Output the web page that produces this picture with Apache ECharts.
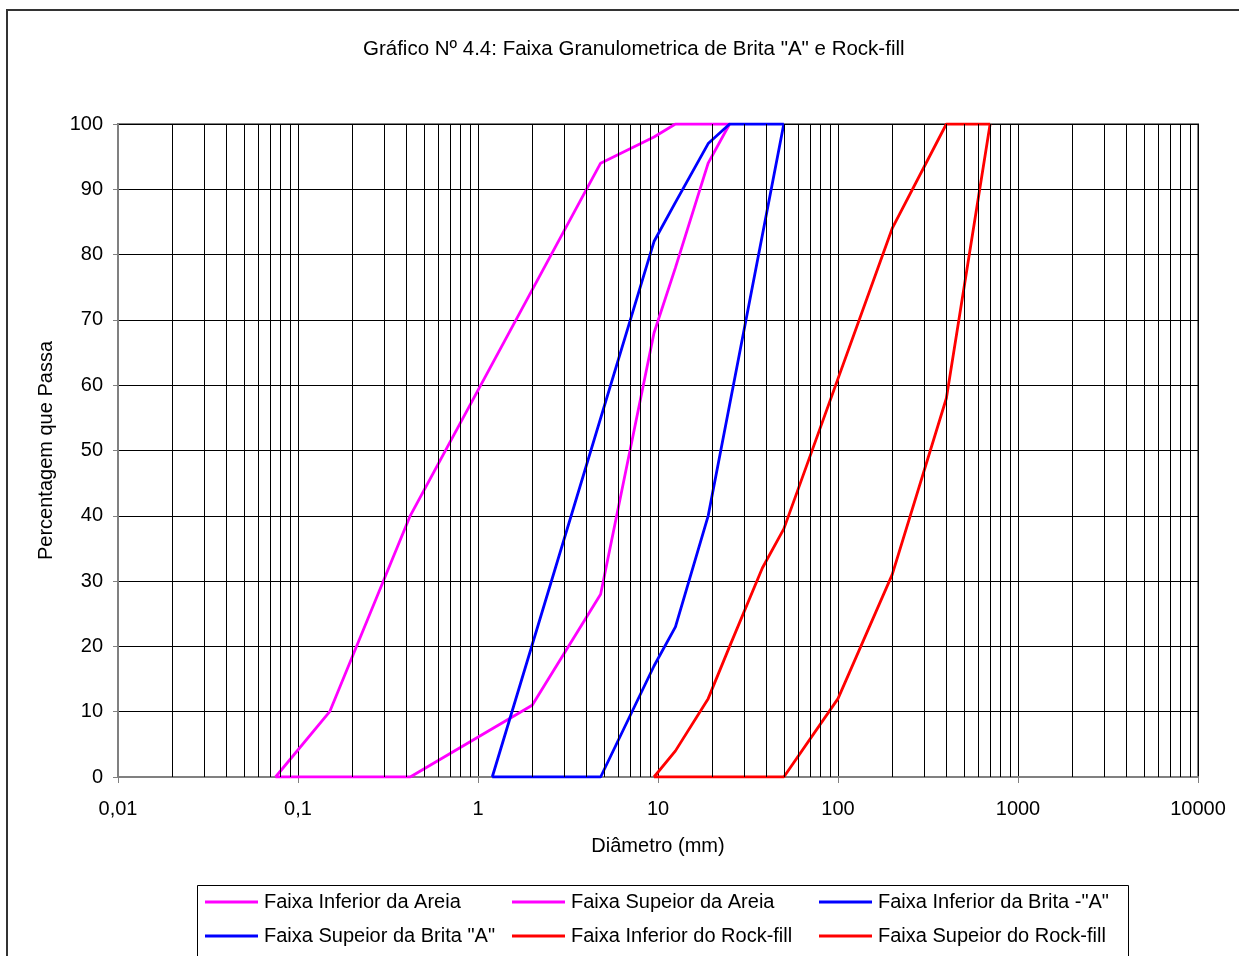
<!DOCTYPE html>
<html>
<head>
<meta charset="utf-8">
<script src="https://cdn.jsdelivr.net/npm/echarts@6/dist/echarts.min.js"></script>
<style>
html,body{margin:0;padding:0;background:#fff;}
#chart{width:1239px;height:956px;}
</style>
</head>
<body>
<div id="chart"></div>
<script>
const TITLE = 'Gráfico Nº 4.4: Faixa Granulometrica de Brita "A" e Rock-fill';
const X_NAME = 'Diâmetro (mm)';
const Y_NAME = 'Percentagem que Passa';
const X_TICK_LABELS = {0.01:'0,01',0.1:'0,1',1:'1',10:'10',100:'100',1000:'1000',10000:'10000'};
const DECADES = [0.01, 0.1, 1, 10, 100, 1000];
const MINOR_MULTS = [2, 3, 4, 5, 6, 7, 8, 9];

const NAMES = ['Faixa Inferior da Areia','Faixa Supeior da Areia','Faixa Inferior da Brita -"A"',
               'Faixa Supeior da Brita "A"','Faixa Inferior do Rock-fill','Faixa Supeior do Rock-fill'];
const COLORS = ['#FF00FF','#FF00FF','#0000FF','#0000FF','#FF0000','#FF0000'];

const infAreiaX = [0.075, 0.15, 0.42, 4.8, 9.5, 12.5, 25];
const infAreiaY = [0, 10, 40, 94, 98, 100, 100];
const supAreiaX = [0.075, 0.15, 0.42, 2.0, 4.8, 9.5, 12.5, 19, 25];
const supAreiaY = [0, 0, 0, 11, 28, 68, 78, 94, 100];
const infBritaX = [1.2, 9.5, 12.5, 19, 25, 50];
const infBritaY = [0, 82, 88, 97, 100, 100];
const supBritaX = [1.2, 4.8, 9.5, 12.5, 19, 50];
const supBritaY = [0, 0, 17, 23, 40, 100];
const infRockX = [9.5, 12.5, 19, 25, 38, 50, 200, 400, 700];
const infRockY = [0, 4, 12, 20, 32, 38, 84, 100, 100];
const supRockX = [9.5, 50, 100, 200, 400, 700];
const supRockY = [0, 0, 12, 31, 58, 100];

const SERIES_X = [infAreiaX, supAreiaX, infBritaX, supBritaX, infRockX, supRockX];
const SERIES_Y = [infAreiaY, supAreiaY, infBritaY, supBritaY, infRockY, supRockY];

const FONT = 'Liberation Sans, Arial, sans-serif';
const FS = 20;

const minorLines = [];
DECADES.forEach(d => MINOR_MULTS.forEach(m => minorLines.push({xAxis: +(d*m).toPrecision(3)})));

const series = NAMES.map((n, i) => ({
  name: n, type: 'line', symbol: 'none', showSymbol: false, z: 3,
  color: COLORS[i],
  itemStyle: {color: COLORS[i]},
  lineStyle: {color: COLORS[i], width: 2.8},
  data: SERIES_X[i].map((x, k) => [x, SERIES_Y[i][k]])
}));
series.push({
  name: '_minor', type: 'line', symbol: 'none', z: 1, silent: true, data: [],
  markLine: {silent: true, symbol: ['none','none'], label: {show: false},
    lineStyle: {color: '#000', width: 1, type: 'solid'}, emphasis: {disabled: true},
    data: minorLines, animation: false}
});

const LEG_LEFT = [205, 512, 819];
const LEG_TOP = [892, 926];
const legends = NAMES.map((n, i) => ({
  data: [n], left: LEG_LEFT[i % 3], top: LEG_TOP[Math.floor(i / 3)],
  icon: 'rect', itemWidth: 53, itemHeight: 3, itemGap: 0, padding: 0,
  selectedMode: false,
  textStyle: {fontFamily: FONT, fontSize: FS, color: '#000', padding: [0, 0, 0, 1]}
}));

const chart = echarts.init(document.getElementById('chart'), null, {renderer: 'canvas'});
chart.setOption({
  animation: false,
  backgroundColor: '#fff',
  textStyle: {fontFamily: FONT},
  title: {text: TITLE, left: 358, top: 34,
    textStyle: {fontFamily: FONT, fontSize: 20.5, fontWeight: 'normal', color: '#000'}},
  grid: {left: 118, top: 124, right: 41, bottom: 179, show: true,
    borderColor: '#808080', borderWidth: 2, backgroundColor: 'transparent'},
  xAxis: {type: 'log', logBase: 10, min: 0.01, max: 10000,
    name: X_NAME, nameLocation: 'middle', nameGap: 59,
    nameTextStyle: {fontFamily: FONT, fontSize: FS, color: '#000'},
    axisLine: {show: true, lineStyle: {color: '#808080', width: 2}},
    axisTick: {show: true, length: 6, lineStyle: {color: '#808080', width: 1}},
    axisLabel: {fontFamily: FONT, fontSize: FS, color: '#000', margin: 22,
      formatter: v => X_TICK_LABELS[+v.toPrecision(3)] ?? ''},
    splitLine: {show: true, lineStyle: {color: '#000', width: 1}},
    minorTick: {show: false}, minorSplitLine: {show: false}},
  yAxis: {type: 'value', min: 0, max: 100, interval: 10,
    name: Y_NAME, nameLocation: 'middle', nameGap: 62, nameRotate: 90,
    nameTextStyle: {fontFamily: FONT, fontSize: FS, color: '#000'},
    axisLine: {show: true, lineStyle: {color: '#808080', width: 2}},
    axisTick: {show: true, length: 5, lineStyle: {color: '#808080'}},
    axisLabel: {fontFamily: FONT, fontSize: FS, color: '#000', margin: 15},
    splitLine: {show: true, lineStyle: {color: '#000', width: 1}}},
  legend: legends,
  graphic: [
    {type: 'rect', shape: {x: 7, y: 10, width: 1300, height: 1000}, silent: true,
     style: {fill: 'none', stroke: '#333', lineWidth: 2}},
    {type: 'rect', shape: {x: 197.5, y: 885.5, width: 931, height: 80}, silent: true,
     style: {fill: 'none', stroke: '#000', lineWidth: 1}}
  ],
  series: series
});
</script>
</body>
</html>
